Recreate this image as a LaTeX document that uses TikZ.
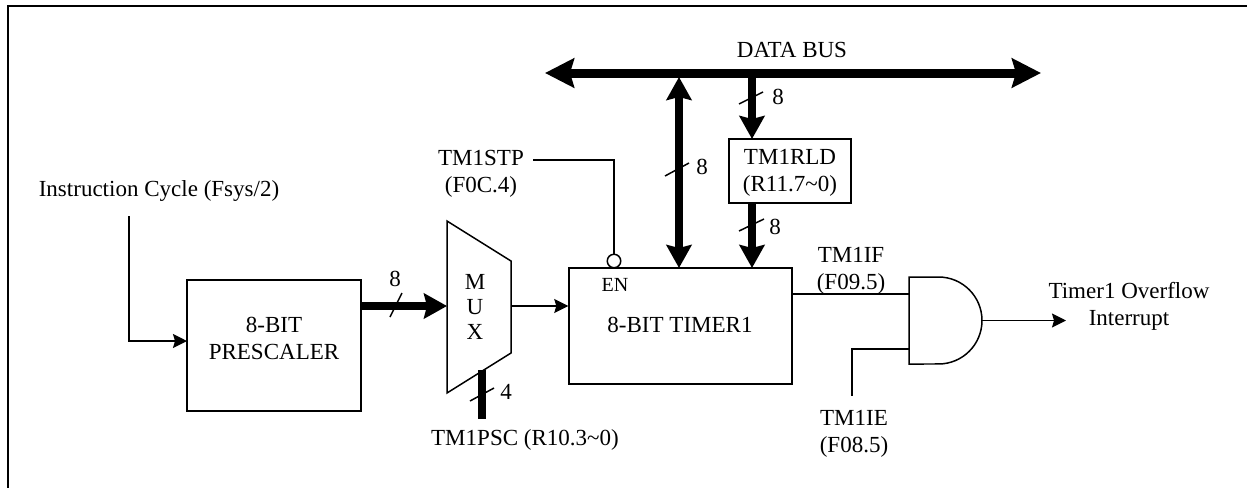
\documentclass[tikz,border=0pt]{standalone}
\usepackage{fontspec}
\setmainfont{Liberation Serif}
\usetikzlibrary{arrows.meta,positioning}

\begin{document}
\begin{tikzpicture}[
    x=0.02cm,
    y=-0.02cm,
    font=\fontsize{13.1}{15.4}\selectfont,
    wire/.style={
        line width=0.85pt
    },
    arrow/.style={
        wire,
        -{Stealth[length=0.28cm,width=0.28cm,inset=0.04cm]}
    },
    bus/.style={
        line width=0.17cm,
        -{Stealth[length=0.46cm,width=0.5cm,inset=0.06cm]}
    },
    dbus/.style={
        bus,
        {Stealth[length=0.46cm,width=0.5cm,inset=0.06cm]}-{Stealth[length=0.46cm,width=0.5cm,inset=0.06cm]}
    },
    block/.style={
        rectangle,
        draw=black,
        line width=0.85pt,
        align=center,
        inner sep=0pt
    },
    label/.style={
        align=center,
        inner sep=0pt
    },
    slash/.style={
        line width=0.85pt
    }
]
\useasboundingbox (0,0) rectangle (1247,488);

% Frame
\coordinate (frametop) at (1247,6);
\coordinate (framecorner) at (8,6);
\coordinate (framebottom) at (8,488);
\draw[line width=0.04cm] (frametop) -- (framecorner) -- (framebottom);

% Blocks
\node[block, minimum width=3.48cm, minimum height=2.62cm] (prescaler) at (274,345.5) {};
\node[label] (prescalertext) at (274,338.5) {8-BIT\\PRESCALER};
\node[block, minimum width=4.46cm, minimum height=2.32cm] (timer) at (680.5,326) {};
\node[label] (timertext) at (680,325) {8-BIT TIMER1};
\node[label, font=\fontsize{11.4}{13}\selectfont] (en) at (615,284.5) {EN};
\node[block, minimum width=2.44cm, minimum height=1.28cm] (rld) at (790,171) {};
\node[label] (rldtext) at (790,172.5) {TM1RLD\\(R11.7\textasciitilde0)};

% MUX
\coordinate (muxlt) at (447,221);
\coordinate (muxrt) at (511,261);
\coordinate (muxrb) at (511,353);
\coordinate (muxlb) at (447,393);
\draw[wire, line join=miter] (muxlt) -- (muxrt) -- (muxrb) -- (muxlb) -- cycle;
\node[label] (mux) at (475,307) {M\\[-0.04cm]U\\[-0.04cm]X};

% AND gate
\coordinate (andlt) at (909,277);
\coordinate (andlb) at (909,364);
\coordinate (andout) at (982,320.5);
\draw[wire] (andlt) -- (938.5,277) arc[start angle=90, end angle=-90, radius=0.87cm] -- (andlb) -- cycle;

% Labels
\node[label] (databus) at (792,50) {DATA BUS};
\node[label] (clock) at (159,191) {Instruction Cycle (Fsys/2)};
\node[label] (stp) at (481,174) {TM1STP\\(F0C.4)};
\node[label] (psc) at (525,440) {TM1PSC (R10.3\textasciitilde0)};
\node[label] (tmif) at (851,271) {TM1IF\\(F09.5)};
\node[label] (tmie) at (854,433.5) {TM1IE\\(F08.5)};
\node[label] (ovf) at (1129,306.5) {Timer1 Overflow\\Interrupt};
\node[label] (eight1) at (395,279) {8};
\node[label] (eight2) at (702,167) {8};
\node[label] (eight3) at (778,97) {8};
\node[label] (eight4) at (775,227) {8};
\node[label] (four) at (506,392) {4};

% Inverting input of the timer
\node[circle, draw=black, line width=0.85pt, minimum size=0.27cm, inner sep=0pt] (encircle) at (614,261) {};

% Free ends
\coordinate (busleft) at (545,73);
\coordinate (busright) at (1041,73);
\coordinate (tapdata) at (679,77);
\coordinate (taprld) at (752,77);
\coordinate (timerdata) at (679,268);
\coordinate (timerrld) at (752,268);
\coordinate (rldin) at (752,139);
\coordinate (rldout) at (752,203);
\coordinate (muxin) at (447,306);
\coordinate (muxout) at (511,306);
\coordinate (pscend) at (482,419);
\coordinate (psctop) at (482,370);
\coordinate (clockstart) at (129,216);
\coordinate (clockend) at (187,341);
\coordinate (stpstart) at (533,160);
\coordinate (ifin) at (909,294);
\coordinate (iein) at (909,349);
\coordinate (iestart) at (852,396);
\coordinate (ovfend) at (1066,320.5);

% Data bus
\draw[dbus, line width=0.18cm, {Stealth[length=0.58cm,width=0.58cm,inset=0.08cm]}-{Stealth[length=0.58cm,width=0.58cm,inset=0.08cm]}] (busleft) -- (busright);
\draw[dbus] (tapdata) -- (timerdata);
\draw[bus] (taprld) -- (rldin);
\draw[bus] (rldout) -- (timerrld);

% Thick arrows
\draw[bus] (prescaler.east |- muxin) -- (muxin);
\draw[line width=0.16cm] (psctop) -- (pscend);

% Thin wires
\draw[arrow] (clockstart) |- (clockend);
\draw[arrow] (muxout) -- (muxout -| timer.west);
\draw[wire] (stpstart) -| (encircle.north);
\draw[wire] (ifin -| timer.east) -- (ifin);
\draw[wire] (iein) -| (iestart);
\draw[arrow] (andout) -- (ovfend);

% Bus width marks
\draw[slash] (390,317) -- (402,293);
\draw[slash] (665,176) -- (689,163);
\draw[slash] (739,104) -- (763,92);
\draw[slash] (739,231) -- (764,219);
\draw[slash] (470,401) -- (494,388);

\end{tikzpicture}
\end{document}
